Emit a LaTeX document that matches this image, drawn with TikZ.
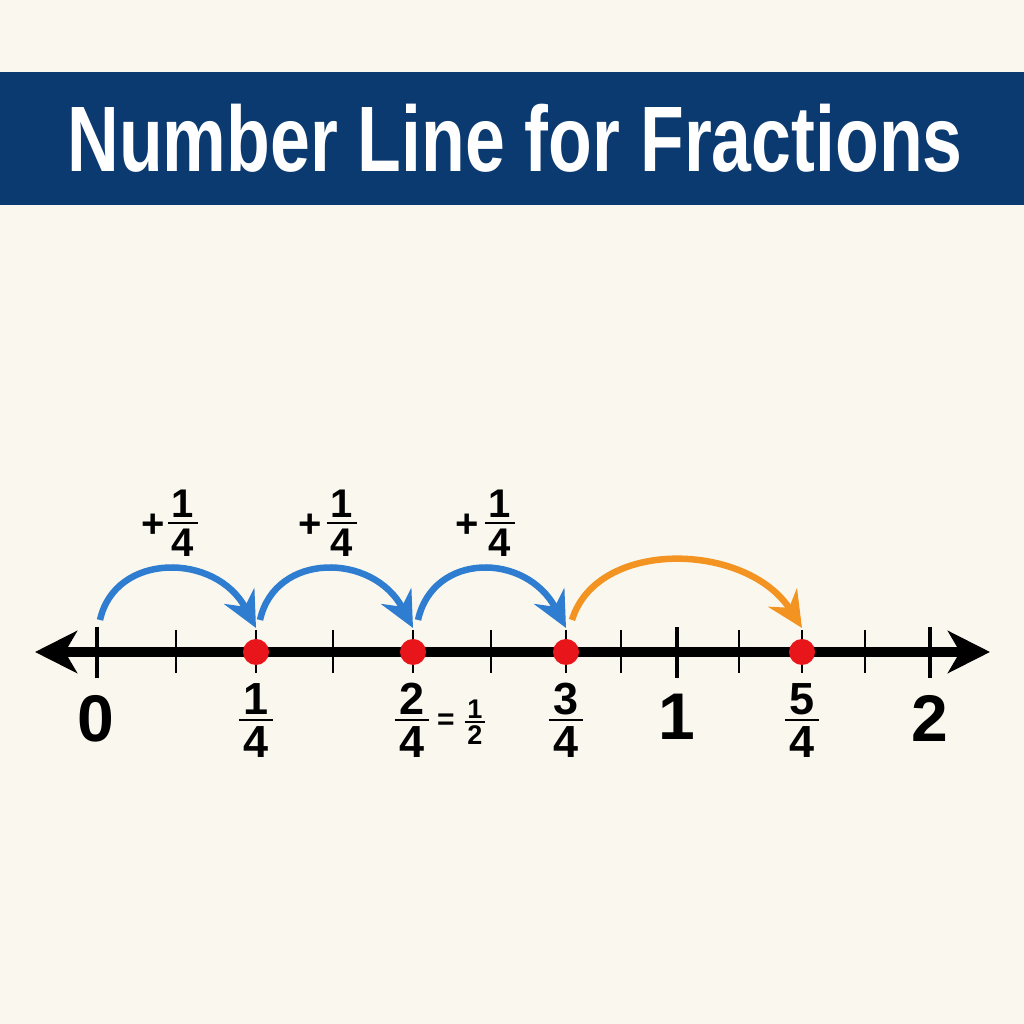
\documentclass[tikz,border=0pt]{standalone}
\usepackage{fontspec}
\setmainfont{Liberation Sans}
\usepackage{graphicx}
\usetikzlibrary{arrows.meta,calc}
\definecolor{bg}{HTML}{FAF8EE}
\definecolor{navy}{HTML}{0B3A70}
\definecolor{jumpblue}{HTML}{2E7DD1}
\definecolor{jumporange}{HTML}{F39422}
\definecolor{dotred}{HTML}{E8161B}
\newcommand\fsz[1]{\fontsize{#1}{#1}\selectfont}
% name, x, ybar, numerator, denominator, size
\newcommand\fracat[6]{%
  \node[fdig, font=\fsz{#6}\bfseries, text height={0.72*#6pt}, anchor=south] (#1n) at ({#2},{#3+0.12*#6}) {#4};
  \node[fdig, font=\fsz{#6}\bfseries, text height={0.72*#6pt}, anchor=north] (#1d) at ({#2},{#3-0.12*#6}) {#5};
  \draw[line width={0.065*#6}] ({#2-0.38*#6},{#3}) -- ({#2+0.38*#6},{#3});
}
\tikzset{
  fdig/.style={inner sep=0pt, text depth=0pt},
  bigdig/.style={inner sep=0pt, font=\fsz{66}\bfseries, anchor=base},
  plussign/.style={inner sep=0pt, font=\fsz{40}\bfseries},
  dot/.style={circle, fill=dotred, minimum size=26pt, inner sep=0pt},
  majortick/.style={line width=4.5pt},
  minortick/.style={line width=2pt},
  axis/.style={line width=9.5pt, {Stealth[length=42pt,width=42pt,inset=12pt]}-{Stealth[length=42pt,width=42pt,inset=12pt]}},
  jump/.style={line width=6.5pt, -{Stealth[length=36pt,width=34pt,inset=12pt]}},
}
\begin{document}
\begin{tikzpicture}[x=1pt,y=1pt]
\fill[bg] (0,0) rectangle (1024,1024);
\useasboundingbox (0,0) rectangle (1024,1024);
% banner
\fill[navy] (0,819) rectangle (1024,952);
\node[anchor=base, text=white, inner sep=0pt, font=\fsz{93}\bfseries] (title) at (515,852)
  {\scalebox{0.77}[1]{Number Line for Fractions}};
% axis
\coordinate (L) at (35,372);
\coordinate (R) at (990,372);
\draw[axis] (L) -- (R);
% major ticks
\foreach \x in {97,677,930} \draw[majortick] (\x,397) -- (\x,346);
% minor ticks
\foreach \x in {176,256,333,413,491,566,621,739,802,865} \draw[minortick] (\x,394) -- (\x,351);
% dots
\node[dot] (d1) at (256,372) {};
\node[dot] (d2) at (413,372) {};
\node[dot] (d3) at (566,372) {};
\node[dot] (d5) at (802,372) {};
% jump endpoints
\coordinate (s0) at (100,404);
\coordinate (s1) at (260,404);
\coordinate (s2) at (418,404);
\coordinate (s3) at (572,404);
\coordinate (t1) at ($(d1)+(0,24)$);
\coordinate (t2) at ($(d2)+(0,24)$);
\coordinate (t3) at ($(d3)+(0,24)$);
\coordinate (t5) at ($(d5)+(0,24)$);
\draw[jump, jumpblue] (s0) .. controls ($(s0)+(15,68)$) and ($(t1)+(-40,76)$) .. (t1);
\draw[jump, jumpblue] (s1) .. controls ($(s1)+(15,68)$) and ($(t2)+(-40,76)$) .. (t2);
\draw[jump, jumpblue] (s2) .. controls ($(s2)+(15,68)$) and ($(t3)+(-40,76)$) .. (t3);
\draw[jump, jumporange] (s3) .. controls ($(s3)+(25,82)$) and ($(t5)+(-55,86)$) .. (t5);
% jump labels
\node[plussign] (pl1) at (153,498) {+};
\fracat{pf1}{183}{501}{1}{4}{40}
\node[plussign] (pl2) at (310,498) {+};
\fracat{pf2}{342}{501}{1}{4}{40}
\node[plussign] (pl3) at (467,498) {+};
\fracat{pf3}{500}{501}{1}{4}{40}
% axis labels
\node[bigdig] (n0) at (96,282) {0};
\node[bigdig] (n1) at (677,284) {1};
\node[bigdig] (n2) at (930,282) {2};
\fracat{f1}{256}{304}{1}{4}{45}
\fracat{f2}{412}{304}{2}{4}{45}
\node[inner sep=0pt, font=\fsz{30}\bfseries] (eq) at (446,302) {=};
\fracat{fh}{475}{302}{1}{2}{27}
\fracat{f3}{566}{304}{3}{4}{45}
\fracat{f5}{802}{304}{5}{4}{45}
\end{tikzpicture}
\end{document}
